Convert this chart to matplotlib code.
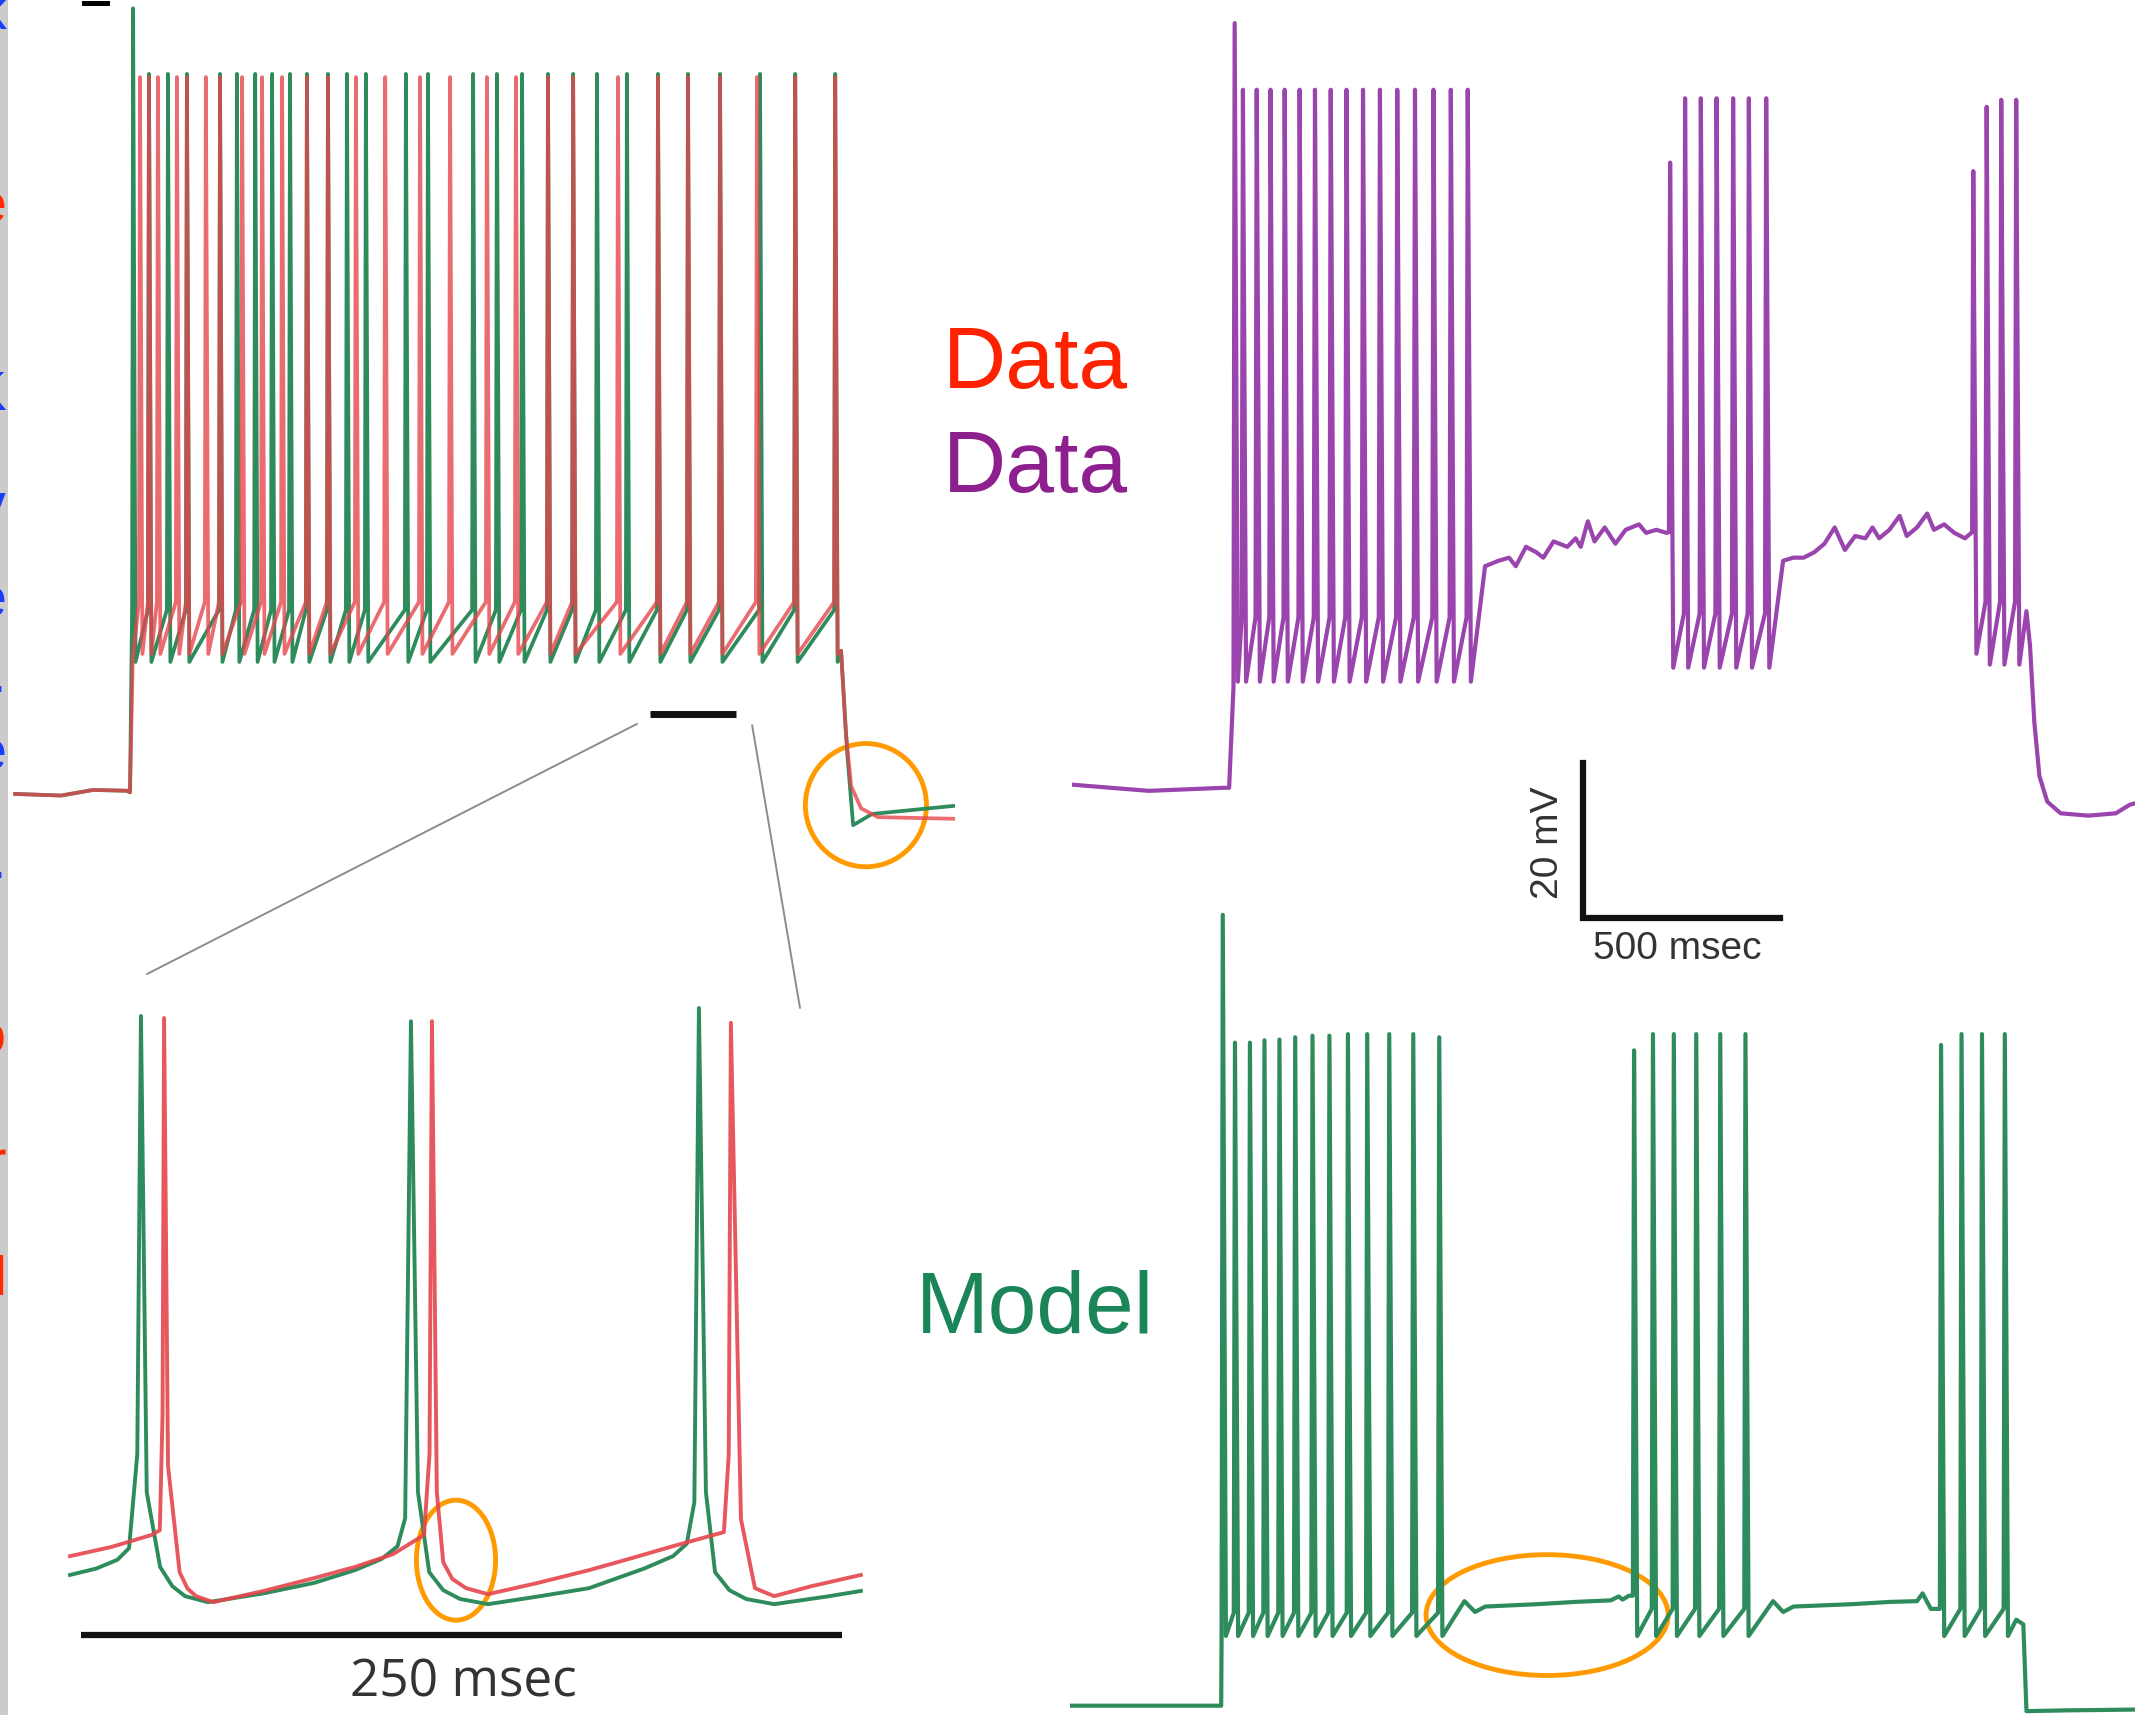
import numpy as np
import matplotlib.pyplot as plt
from matplotlib.patches import Ellipse, ConnectionPatch, Rectangle

W, H = 2135, 1715  # canvas in pixels at dpi 100

RED = '#e5464c'
GREEN = '#2e8b5c'
PURPLE = '#9a44ad'
ORANGE = '#ff9a00'
BAR = '#111111'

# ---------------- top-left: recorded (red) vs model (green), 2 s step ----------------
tl_red_spikes = [29, 55, 81, 136, 165, 220, 261, 325, 383, 441, 513, 574, 655, 740,
                 841, 928, 1035, 1119, 1212, 1285, 1415, 1531, 1618, 1711, 1818, 1929, 2045]
tl_green_spikes = [9, 55, 110, 165, 261, 310, 363, 412, 464, 513, 574, 629, 684, 800,
                   864, 995, 1064, 1137, 1212, 1285, 1354, 1441, 1531, 1618, 1711, 1827,
                   1929, 2045]
tl_green_peaks = [33.2] + [25.0] * 27
tl_red_pre = [(-333, -65.0), (-200, -65.2), (-107, -64.5), (-9, -64.6), (0, -64.8), (8, -48.0)]
tl_green_pre = [(-333, -65.0), (-200, -65.2), (-107, -64.5), (-9, -64.6), (0, -64.8)]
tl_red_post = [(2062, -47.1), (2075, -57.0), (2091, -64.0), (2120, -66.8), (2169, -67.9),
               (2387, -68.1)]
tl_green_post = [(2062, -47.1), (2080, -60.0), (2097, -68.9), (2152, -67.5), (2387, -66.5)]

# ---------------- bottom-left: 250 ms zoom of the same pair ----------------
bl_green = [(-3.6, -45.1), (5, -44.3), (12, -43.2), (15.8, -41.75), (18.5, -30), (19.7, 24.75),
            (21.6, -34.75), (26, -44.1), (30, -46.5), (34.2, -47.75), (41.7, -48.5), (60, -47.4),
            (76.5, -46.1), (90, -44.5), (98.8, -43.1), (104, -41.5), (106.5, -38),
            (108.4, 24.1), (110.7, -34.75), (114.4, -44.75), (119, -47.0), (124.5, -48.1),
            (133.7, -48.75), (150, -47.8), (166.9, -46.75), (185, -44.3), (194.5, -42.75),
            (199, -41.2), (201.5, -36), (203, 25.75), (205.3, -34.75), (208.3, -44.75),
            (213, -47.0), (218.5, -48.1), (227.7, -48.75), (245, -47.8), (256.2, -47.1)]
bl_red = [(-3.6, -42.75), (10, -41.6), (23.2, -40.1), (25.9, -39.5), (26.8, -25), (27.3, 24.5),
          (28.6, -31.5), (32.4, -44.75), (35, -46.8), (37.8, -47.75), (43.4, -48.5), (60, -47.1),
          (76.5, -45.5), (90, -44.1), (102.5, -42.5), (112.7, -40.1), (114.5, -30),
          (115.3, 24.1), (116.9, -34.75), (119, -43.5), (122, -45.6), (126.5, -46.75),
          (133.7, -47.5), (150, -46.1), (166.9, -44.5), (180, -43.1), (194.5, -41.5),
          (211.2, -39.75), (212.8, -30), (213.5, 23.9), (216.8, -38.1), (221.4, -46.75),
          (227.7, -47.75), (240, -46.5), (256.2, -45.1)]

# ---------------- top-right: recorded bursting cell (purple) ----------------
p_pre = [(-399, -64.6), (-204, -65.4), (-12, -65.0), (0, -65.0)]
p_burst1 = [14, 35, 70, 105, 141, 179, 218, 258, 298, 340, 383, 427, 472, 519, 563, 606]
p_peaks1 = [33.7] + [25.1] * 15
p_thr1 = [-52.0] + [-43.0] * 15
p_plateau1 = [(650, -36.4), (684, -35.7), (711, -35.3), (728, -36.4), (754, -33.9), (780, -34.6),
              (798, -35.3), (824, -33.2), (859, -33.9), (880, -32.8), (893, -33.9), (911, -30.6),
              (928, -33.2), (954, -31.4), (981, -33.5), (1007, -31.7), (1041, -31.0),
              (1059, -32.1), (1085, -31.7), (1111, -32.1)]
p_burst2 = [1120, 1158, 1198, 1238, 1280, 1320, 1364]
p_peaks2 = [15.7] + [24.0] * 6
p_thr2 = [-32.0] + [-42.5] * 6
p_plateau2 = [(1407, -35.7), (1433, -35.3), (1459, -35.3), (1486, -34.6), (1512, -33.5),
              (1538, -31.4), (1564, -34.3), (1590, -32.5), (1616, -32.8), (1634, -31.4),
              (1651, -32.8), (1677, -31.7), (1703, -29.9), (1721, -32.5), (1747, -31.4),
              (1773, -29.6), (1790, -31.7), (1816, -31.0), (1842, -32.1), (1869, -32.8)]
p_burst3 = [1890, 1924, 1961, 1999]
p_peaks3 = [14.6, 22.9, 23.8, 23.8]
p_thr3 = [-32.0, -41.0, -41.0, -41.0]
p_ahp3 = [-47.7, -49.1, -49.1, -49.1]
p_post = [(2025, -42.2), (2034, -46.6), (2045, -56.5), (2058, -63.5), (2078, -66.8),
          (2112, -68.3), (2182, -68.6), (2252, -68.3), (2287, -67.2), (2301, -67.0)]

# ---------------- bottom-right: model bursting (green) ----------------
m_pre = [(-384, -65.0), (-200, -65.0), (0, -65.0)]
m_burst1 = [4, 35, 73, 110, 148, 188, 232, 275, 322, 371, 427, 488, 554]
m_peaks1 = [37.1, 20.6, 20.6, 20.9, 21.0, 21.3, 21.5, 21.5, 21.7, 21.7, 21.7, 21.7, 21.3]
m_thr1 = [-56.0] + [-53.0] * 12
m_plateau1 = [(618, -51.5), (645, -52.9), (671, -52.2), (800, -51.9), (900, -51.6),
              (990, -51.4), (1010, -50.9), (1020, -51.3), (1036, -50.8)]
m_burst2 = [1049, 1097, 1150, 1207, 1268, 1332]
m_peaks2 = [19.6] + [21.7] * 5
m_thr2 = [-50.8] + [-52.5] * 5
m_plateau2 = [(1402, -51.5), (1428, -52.9), (1454, -52.2), (1600, -51.9), (1700, -51.6),
              (1768, -51.5), (1782, -50.5), (1803, -52.5)]
m_burst3 = [1829, 1881, 1933, 1991]
m_peaks3 = [20.3, 21.7, 21.7, 21.7]
m_post = [(2020, -53.9), (2038, -54.5), (2046, -65.7), (2150, -65.6), (2322, -65.5)]

# cut-off letters of the neighbouring slide along the left edge
strip_letters = [(15, 'k', '#1a3cff'), (208, 'e', '#ff2a00'), (396, 'K', '#1a3cff'),
                 (508, 'v', '#1a3cff'), (602, 'e', '#1a3cff'), (678, '.', '#1a3cff'),
                 (755, 'e', '#1a3cff'), (864, '.', '#1a3cff'), (1039, 'o', '#ff2a00'),
                 (1165, 'r', '#ff2a00'), (1280, 'd', '#ff2a00')]


def burst(times, peaks, thr, ahp, rise=3.0, fall=8.0):
    n = len(times)
    peaks = np.broadcast_to(peaks, n)
    thr = np.broadcast_to(thr, n)
    ahp = np.broadcast_to(ahp, n)
    pts = []
    for t, p, th, a in zip(times, peaks, thr, ahp):
        pts += [(t - rise, th), (t, p), (t + fall, a)]
    return pts


def trace(*parts):
    pts = sorted(p for part in parts for p in part)
    return np.array(pts).T


def panel(x0, y0, x1, y1, xlim, ylim):
    ax = fig.add_axes([x0 / W, 1 - y1 / H, (x1 - x0) / W, (y1 - y0) / H])
    ax.set_xlim(*xlim)
    ax.set_ylim(*ylim)
    ax.set_axis_off()
    return ax


fig = plt.figure(figsize=(W / 100 + 0.001, H / 100 + 0.001), dpi=100)
fig.patch.set_facecolor('white')

# left edge strip
fig.add_artist(Rectangle((0, 0), 8 / W, 1, transform=fig.transFigure,
                         facecolor='#cbcbcb', edgecolor='none'))
for y, ch, col in strip_letters:
    fig.text(6 / W, 1 - y / H, ch, color=col, fontsize=40, ha='right', va='center',
             family='Liberation Sans')
fig.add_artist(Rectangle((82 / W, 1 - 6 / H), 28 / W, 5 / H, transform=fig.transFigure,
                         facecolor='black', edgecolor='none'))

# top-left
ax_tl = panel(10, 0, 960, 880, (-348, 2407), (-75.75, 34.25))
t, v = trace(tl_green_pre, burst(tl_green_spikes, tl_green_peaks, -42.0, -48.5, 3, 7),
             tl_green_post)
ax_tl.plot(t, v, color=GREEN, lw=2.7)
t, v = trace(tl_red_pre, burst(tl_red_spikes, 24.6, -41.0, -47.5, 3, 7), tl_red_post)
ax_tl.plot(t, v, color=RED, lw=2.7, alpha=0.8)
ax_tl.plot([1508, 1757], [-55, -55], color=BAR, lw=5, solid_capstyle='butt')
ax_tl.add_patch(Ellipse((2134, -66.4), 351, 15.4, fill=False, edgecolor=ORANGE, lw=3.5,
                        clip_on=False))

# bottom-left
ax_bl = panel(0, 880, 880, 1715, (-26.6, 262.5), (-62.6, 41.75))
t, v = np.array(bl_green).T
ax_bl.plot(t, v, color=GREEN, lw=2.8)
t, v = np.array(bl_red).T
ax_bl.plot(t, v, color=RED, lw=2.8, alpha=0.9)
ax_bl.plot([0, 250], [-52.6, -52.6], color=BAR, lw=4.5, solid_capstyle='butt')
ax_bl.text(125.5, -55.4, '250 msec', ha='center', va='top', fontsize=37, color='#333333',
           family='Open Sans')
ax_bl.add_patch(Ellipse((123.2, -43.25), 26, 15, fill=False, edgecolor=ORANGE, lw=3.5,
                        clip_on=False))

# zoom guide lines from the small bar down to the inset
for a, b in [((1470, -56.25), (21.7, 30.0)), ((1804, -56.4), (236.2, 25.75))]:
    fig.add_artist(ConnectionPatch(xyA=a, coordsA=ax_tl.transData, xyB=b,
                                   coordsB=ax_bl.transData, color='#8c8c8c', lw=1.4))

# top-right
ax_p = panel(1072, 0, 2135, 880, (-399, 2301), (-76.9, 36.7))
t, v = trace(p_pre,
             burst(p_burst1, p_peaks1, p_thr1, -51.3), p_plateau1,
             burst(p_burst2, p_peaks2, p_thr2, -49.5), p_plateau2,
             burst(p_burst3, p_peaks3, p_thr3, p_ahp3), p_post)
ax_p.plot(t, v, color=PURPLE, lw=3.0)
ax_p.plot([899, 899, 1399], [-61.8, -81.8, -81.8], color=BAR, lw=4.5, clip_on=False,
          solid_joinstyle='miter')
ax_p.text(1138, -85.8, '500 msec', ha='center', va='center', fontsize=28, color='#333333',
          family='Liberation Sans')
ax_p.text(810, -72.1, '20 mV', ha='center', va='center', rotation=90, fontsize=28,
          color='#333333', family='Liberation Sans')

# bottom-right
ax_m = panel(1070, 880, 2135, 1715, (-384, 2322), (-66.2, 41.6))
t, v = trace(m_pre,
             burst(m_burst1, m_peaks1, m_thr1, -56.0), m_plateau1,
             burst(m_burst2, m_peaks2, m_thr2, -56.0), m_plateau2,
             burst(m_burst3, m_peaks3, -52.5, -56.0), m_post)
ax_m.plot(t, v, color=GREEN, lw=3.0)
ax_m.add_patch(Ellipse((828, -53.3), 615, 15.6, fill=False, edgecolor=ORANGE, lw=3.5,
                       clip_on=False))

# labels
fig.text(1035 / W, 1 - 388 / H, 'Data', color='#ff2200', fontsize=63, ha='center',
         va='baseline', family='Liberation Sans')
fig.text(1035 / W, 1 - 492 / H, 'Data', color='#8e1f8e', fontsize=63, ha='center',
         va='baseline', family='Liberation Sans')
fig.text(1035 / W, 1 - 1333 / H, 'Model', color='#1a8558', fontsize=63, ha='center',
         va='baseline', family='Liberation Sans')

fig.savefig('out.png', dpi=100)
